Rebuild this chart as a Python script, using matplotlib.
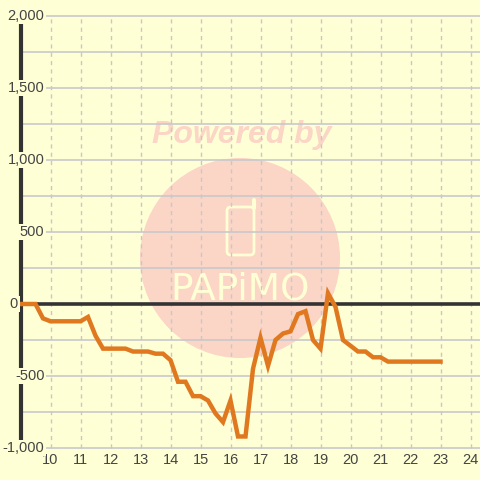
import numpy as np
from matplotlib import pyplot as plt
from matplotlib.patches import Circle, FancyBboxPatch

bg = '#ffffd5'
dark = '#333333'
grid_col = '#c8c8cc'
mark = '#fbd5c5'
logo = '#ffffd5'

hours = np.arange(9, 23.01, 0.25)
values = [0, 0, 0, -100, -120, -120, -120, -120, -120, -90, -220, -310, -310, -310, -310,
          -330, -330, -330, -345, -345, -390, -540, -540, -640, -640, -670, -760, -820,
          -670, -920, -920, -450, -235, -430, -250, -205, -190, -70, -50, -250, -310,
          75, -20, -250, -290, -330, -330, -370, -370, -400, -400, -400, -400, -400,
          -400, -400, -400]

x_ticks = list(range(10, 25))
y_grid = [-1000, -750, -500, -250, 250, 500, 750, 1000, 1250, 1500, 1750, 2000]
y_labels = {2000: '2,000', 1500: '1,500', 1000: '1,000', 500: '500', 0: '0', -500: '-500', -1000: '-1,000'}

plt.rcParams['font.family'] = ['Liberation Sans', 'DejaVu Sans']

fig = plt.figure(figsize=(4.8, 4.8), dpi=100, facecolor=bg)
ax = fig.add_axes([0, 0, 1, 1])
ax.set_facecolor(bg)
ax.set_xlim(10 - 50.5 / 30, 10 + 429.5 / 30)
ax.set_ylim(-176 / 0.144, 304 / 0.144)
ax.axis('off')

# watermark, placed in figure pixels
wm = fig.transFigure + plt.matplotlib.transforms.Affine2D()
def px(x, y):
    return x / 480, 1 - y / 480
c = Circle(px(240, 258), 100 / 480, transform=fig.transFigure, color=mark, lw=0, zorder=1)
ax.add_patch(c)
r = FancyBboxPatch(px(227, 255), 27 / 480, 48 / 480, boxstyle='round,pad=0,rounding_size=0.008',
                   transform=fig.transFigure, fc='none', ec=logo, lw=2, zorder=1.1)
ax.add_patch(r)
ax.plot([254 / 480, 254 / 480], [1 - 208 / 480, 1 - 200 / 480], transform=fig.transFigure,
        color=logo, lw=3, solid_capstyle='round', zorder=1.1)
ax.text(*px(240, 289), 'PAPiMO', transform=fig.transFigure, color=logo, fontsize=27,
        family='Liberation Sans Narrow', ha='center', va='center', zorder=1.1)
ax.text(*px(242, 135), 'Powered by', transform=fig.transFigure, color=mark, fontsize=23,
        fontweight='bold', fontstyle='italic', ha='center', va='center', zorder=1.1)

# grid
ax.hlines(y_grid, 9, 24.4, color=grid_col, lw=1.2, zorder=2)
ax.vlines(x_ticks, -1000, 2000, color=grid_col, lw=1, linestyles=(0, (3, 3)), zorder=2)

# axis lines
ax.plot([9, 9], [-1000, 2000], color=dark, lw=3, solid_capstyle='butt', zorder=3)
ax.plot([9, 24.4], [0, 0], color=dark, lw=2.6, solid_capstyle='butt', zorder=3)

ax.plot(hours, values, color='#e07820', lw=3.2, solid_joinstyle='miter', zorder=4)

for x in x_ticks:
    ax.text(x, -1000, str(x), color='#444444', fontsize=10.5, ha='center', va='top',
            zorder=5).set_y(-1035)
for y, label in y_labels.items():
    ax.text(8.92 if y == 0 else 9.8, y, label, color='#444444', fontsize=10.5, ha='right', va='center',
            zorder=5, bbox=dict(fc=bg, ec='none', pad=1))

plt.savefig('out.png', dpi=100, facecolor=bg)
